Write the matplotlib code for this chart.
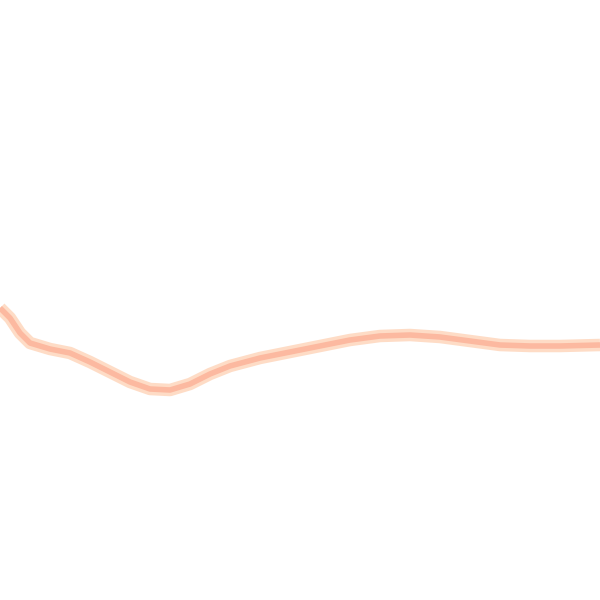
import matplotlib
matplotlib.use("Agg")
import matplotlib.pyplot as plt

x = [0, 10, 20, 30, 50, 70, 90, 110, 130, 150, 170, 190, 210, 230, 260,
     290, 320, 350, 380, 410, 440, 470, 500, 530, 560, 600]
y = [292, 282, 267, 257, 251, 247, 238, 228, 218, 211, 210, 216, 226, 234, 242,
     248, 254, 260, 264, 265, 263, 259, 255, 254, 254, 255]

fig = plt.figure(figsize=(6, 6), dpi=100)
ax = fig.add_axes([0, 0, 1, 1])
ax.plot(x, y, color="#FEDCC6", lw=9, solid_capstyle="butt", solid_joinstyle="round")
ax.plot(x, y, color="#FCB9A0", lw=4, solid_capstyle="butt", solid_joinstyle="round")
ax.set_xlim(0, 600)
ax.set_ylim(0, 600)
ax.axis("off")
fig.savefig("out.png", dpi=100)
